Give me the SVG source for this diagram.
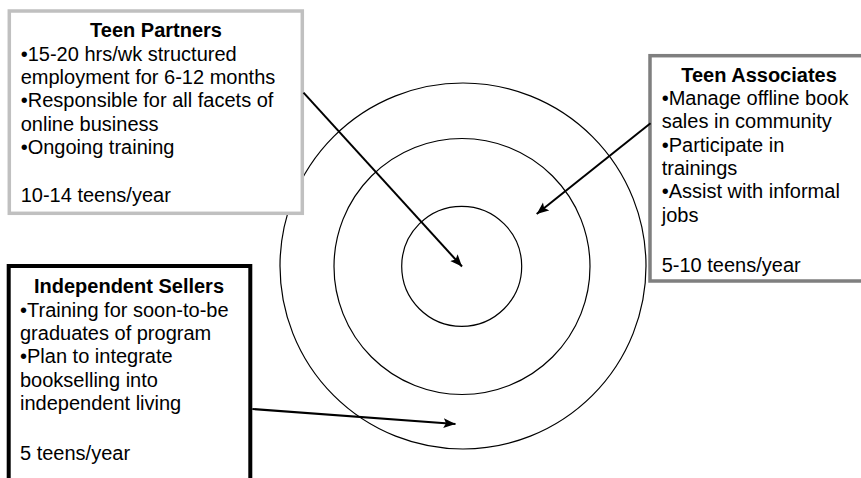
<svg xmlns="http://www.w3.org/2000/svg" width="861" height="478" viewBox="0 0 861 478">
<style>
text{font-family:"Liberation Sans",Arial,sans-serif;font-size:20px;fill:#000}
.t{font-weight:bold;text-anchor:middle}
.ring{fill:none;stroke:#000;stroke-width:1.2}
.box{fill:#fff}
.conn{stroke:#000;stroke-width:2;fill:none;marker-end:url(#ah)}
</style>
<defs>
<marker id="ah" markerUnits="userSpaceOnUse" markerWidth="14" markerHeight="12" refX="12" refY="5" orient="auto" viewBox="0 0 14 10">
<path d="M0,0 L12,5 L0,10 L2.5,5 Z" fill="#000"/>
</marker>
</defs>
<rect width="861" height="478" fill="#fff"/>
<g id="rings">
<circle class="ring" cx="463" cy="266" r="183"/>
<circle class="ring" cx="462" cy="266.5" r="128"/>
<circle class="ring" cx="461.7" cy="266.3" r="60"/>
</g>
<g id="teen-partners">
<rect class="box" x="9.3" y="11" width="293" height="202.3" stroke="#c0c0c0" stroke-width="3.5"/>
<text class="t" x="156" y="37.3">Teen Partners</text>
<text x="20.7" y="60.7">•15-20 hrs/wk structured</text>
<text x="20.7" y="84">employment for 6-12 months</text>
<text x="20.7" y="107.3">•Responsible for all facets of</text>
<text x="20.7" y="130.7">online business</text>
<text x="20.7" y="154">•Ongoing training</text>
<text x="20.7" y="202">10-14 teens/year</text>
</g>
<g id="teen-associates">
<rect class="box" x="650" y="55.7" width="230" height="225.3" stroke="#7f7f7f" stroke-width="3.5"/>
<text class="t" x="759" y="81.7">Teen Associates</text>
<text x="661.7" y="105">•Manage offline book</text>
<text x="661.7" y="128.3">sales in community</text>
<text x="661.7" y="151.7">•Participate in</text>
<text x="661.7" y="175">trainings</text>
<text x="661.7" y="198.3">•Assist with informal</text>
<text x="661.7" y="221.7">jobs</text>
<text x="661.7" y="271.7">5-10 teens/year</text>
</g>
<g id="independent-sellers">
<rect class="box" x="8.7" y="266" width="241.6" height="230" stroke="#000" stroke-width="4"/>
<text class="t" x="129" y="293.3">Independent Sellers</text>
<text x="20" y="316.7">•Training for soon-to-be</text>
<text x="20" y="340">graduates of program</text>
<text x="20" y="363.3">•Plan to integrate</text>
<text x="20" y="386.7">bookselling into</text>
<text x="20" y="410">independent living</text>
<text x="20" y="460">5 teens/year</text>
</g>
<g id="connectors">
<line class="conn" x1="303.5" y1="92.7" x2="462" y2="266.5"/>
<line class="conn" x1="650.5" y1="123.3" x2="536.7" y2="214"/>
<line class="conn" x1="252.3" y1="409" x2="455.5" y2="424"/>
</g>
</svg>
